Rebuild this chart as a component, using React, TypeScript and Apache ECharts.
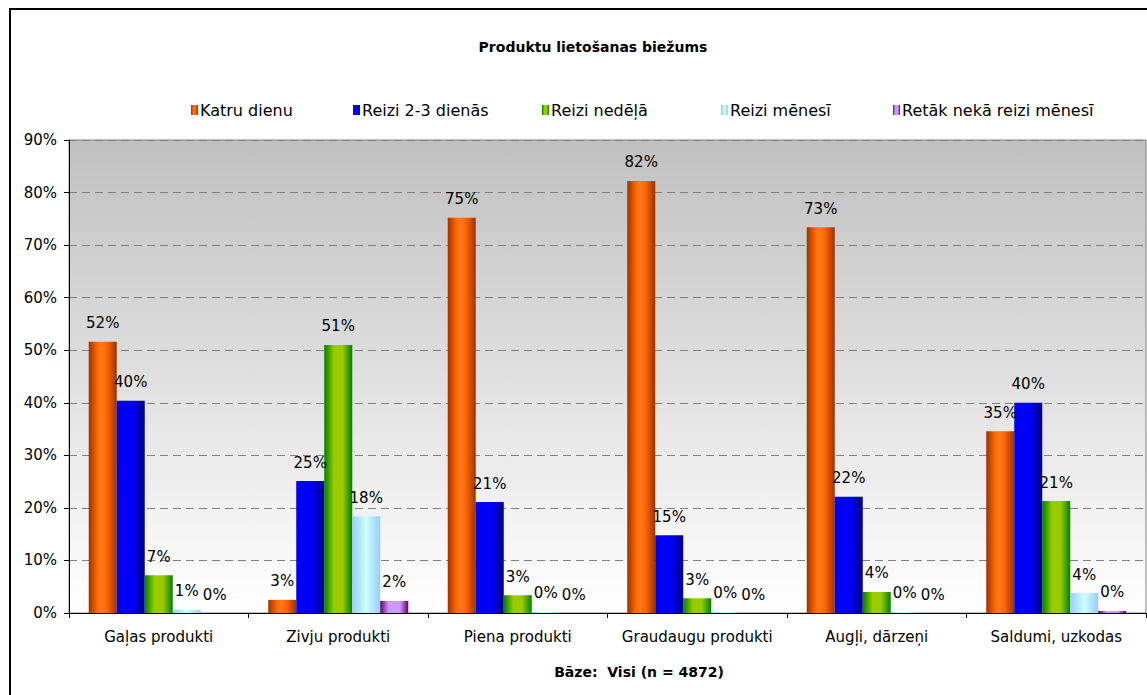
import React, { useEffect, useRef } from "react";
import * as echarts from "echarts";

const categories = [
  "Gaļas produkti",
  "Zivju produkti",
  "Piena produkti",
  "Graudaugu produkti",
  "Augļi, dārzeņi",
  "Saldumi, uzkodas",
];
const seriesNames = [
  "Katru dienu",
  "Reizi 2-3 dienās",
  "Reizi nedēļā",
  "Reizi mēnesī",
  "Retāk nekā reizi mēnesī",
];
const katruDienu = [51.6, 2.5, 75.2, 82.2, 73.4, 34.6];
const reizi23Dienas = [40.4, 25.1, 21.1, 14.8, 22.1, 40.0];
const reiziNedela = [7.2, 51.0, 3.4, 2.8, 4.0, 21.3];
const reiziMenesi = [0.6, 18.4, 0.2, 0.2, 0.2, 3.8];
const retak = [0.0, 2.3, 0.0, 0.0, 0.0, 0.4];
const yTicks = [0, 10, 20, 30, 40, 50, 60, 70, 80, 90];

const seriesValues = [katruDienu, reizi23Dienas, reiziNedela, reiziMenesi, retak];

const grad = (stops: [number, string][]) => ({
  type: "linear",
  x: 0,
  y: 0,
  x2: 1,
  y2: 0,
  colorStops: stops.map(([offset, color]) => ({ offset, color })),
});

const barColors = [
  grad([
    [0, "#993300"],
    [0.3, "#ff6600"],
    [0.45, "#ff7a1f"],
    [0.65, "#ff6600"],
    [1, "#993300"],
  ]),
  grad([
    [0, "#0000ee"],
    [0.55, "#0000ff"],
    [1, "#000080"],
  ]),
  grad([
    [0, "#008000"],
    [0.35, "#99cc00"],
    [0.65, "#99cc00"],
    [1, "#008000"],
  ]),
  grad([
    [0, "#99ccff"],
    [0.5, "#ccffff"],
    [1, "#99ccff"],
  ]),
  grad([
    [0, "#660066"],
    [0.3, "#cc99ff"],
    [0.7, "#cc99ff"],
    [1, "#660066"],
  ]),
];
const legendLeft = [191, 353, 542, 721, 893];

export default function App() {
  const ref = useRef<HTMLDivElement>(null);
  useEffect(() => {
    document.body.style.margin = "0";
    if (!ref.current) return;
    const chart = echarts.init(ref.current, undefined, { renderer: "svg" });
    const font = "'DejaVu Sans', Arial, sans-serif";
    chart.setOption({
      animation: false,
      backgroundColor: "#ffffff",
      textStyle: { fontFamily: font },
      graphic: [
        {
          type: "rect",
          z: 100,
          shape: { x: 10, y: 9, width: 1300, height: 900 },
          style: { fill: "none", stroke: "#000", lineWidth: 2 },
          silent: true,
        },
        {
          type: "text",
          x: 593,
          y: 47,
          style: {
            text: "Produktu lietošanas biežums",
            fontFamily: font,
            fontSize: 14,
            fontWeight: "bold",
            fill: "#000",
            align: "center",
            verticalAlign: "middle",
          },
        },
        {
          type: "text",
          x: 639,
          y: 672,
          style: {
            text: "Bāze:  Visi (n = 4872)",
            fontFamily: font,
            fontSize: 14,
            fontWeight: "bold",
            fill: "#000",
            align: "center",
            verticalAlign: "middle",
          },
        },
      ],
      legend: seriesNames.map((name, i) => ({
        data: [name],
        left: legendLeft[i],
        top: 102,
        padding: 0,
        icon: "rect",
        itemWidth: 7,
        itemHeight: 10,
        itemGap: 4,
        selectedMode: false,
        textStyle: { fontSize: 16, color: "#000", fontFamily: font, padding: [0, 0, 0, -3] },
      })),
      grid: {
        left: 69,
        right: 1,
        top: 140,
        bottom: 82,
        show: true,
        borderColor: "#808080",
        borderWidth: 1,
        backgroundColor: {
          type: "linear",
          x: 0,
          y: 0,
          x2: 0,
          y2: 1,
          colorStops: [
            { offset: 0, color: "#c0c0c0" },
            { offset: 1, color: "#ffffff" },
          ],
        },
      },
      xAxis: {
        type: "category",
        data: categories,
        axisLine: { lineStyle: { color: "#000", width: 1 } },
        axisTick: { show: true, interval: 0, length: 5, lineStyle: { color: "#000" } },
        axisLabel: { interval: 0, fontSize: 15, color: "#000", margin: 16, fontFamily: font },
      },
      yAxis: {
        type: "value",
        min: 0,
        max: 90,
        interval: 10,
        axisLine: { show: true, lineStyle: { color: "#000", width: 1 } },
        axisTick: { show: true, length: 5, lineStyle: { color: "#000" } },
        axisLabel: {
          fontSize: 15,
          color: "#000",
          margin: 12,
          fontFamily: font,
          formatter: (v: number) => (yTicks.includes(v) ? v + "%" : ""),
        },
        splitLine: {
          show: true,
          lineStyle: { color: "#808080", type: [8, 5], width: 1 },
        },
      },
      series: seriesNames.map((name, i) => ({
        name,
        type: "bar",
        data: seriesValues[i],
        barGap: "0%",
        barCategoryGap: "22%",
        itemStyle: { color: barColors[i] },
        label: {
          show: true,
          position: "top",
          distance: 11,
          fontSize: 15,
          color: "#000",
          fontFamily: font,
          formatter: (p: any) => Math.round(p.value) + "%",
        },
      })),
    });
    return () => chart.dispose();
  }, []);
  return <div ref={ref} style={{ width: 1147, height: 695 }} />;
}
